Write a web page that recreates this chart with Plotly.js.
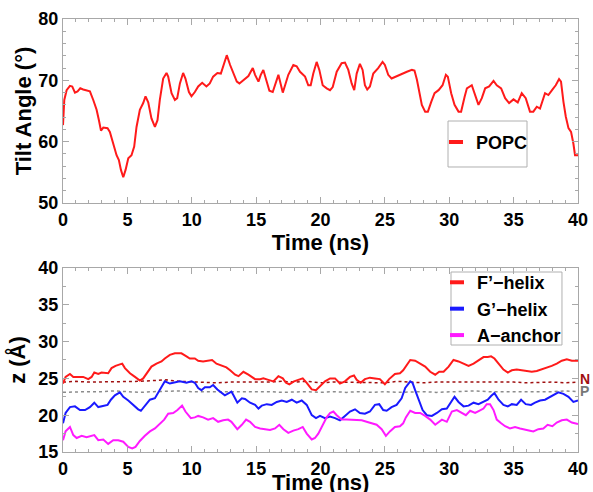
<!DOCTYPE html>
<html>
<head>
<meta charset="utf-8">
<script src="https://cdn.plot.ly/plotly-3.0.1.min.js"></script>
<style>html,body{margin:0;padding:0;background:#fff;}#chart{width:593px;height:492px;}</style>
</head>
<body>
<div id="chart"></div>
<script>
// ---- Top panel: tilt angle (POPC) ----
const tiltTime = [0,0.1,0.28,0.54,0.72,0.93,1.13,1.34,1.57,1.96,2.09,2.35,2.61,2.79,2.95,3.13,3.46,3.64,3.9,4.16,4.34,4.5,4.68,4.86,5.07,5.32,5.53,5.71,5.97,6.23,6.41,6.62,6.87,7.14,7.34,7.52,7.78,8.04,8.17,8.43,8.69,8.87,9.08,9.33,9.51,9.78,9.98,10.24,10.5,10.81,11.14,11.4,11.66,11.99,12.26,12.5,12.72,12.98,13.24,13.5,13.7,14.01,14.4,14.74,14.92,15.18,15.36,15.56,15.77,16.03,16.29,16.47,16.73,16.86,17.07,17.25,17.5,17.89,18.15,18.41,18.8,19.05,19.24,19.44,19.7,19.91,20.17,20.48,20.74,20.95,21.26,21.64,21.9,22.16,22.42,22.62,22.81,23.06,23.27,23.45,23.63,23.84,24.1,24.48,24.82,25.0,25.26,25.52,25.91,26.3,26.71,27.1,27.3,27.49,27.67,27.87,28.13,28.34,28.6,28.86,29.17,29.48,29.74,29.89,30.15,30.41,30.72,30.92,31.19,31.37,31.75,32.01,32.27,32.53,32.79,33.1,33.44,33.69,34.03,34.34,34.65,34.99,35.32,35.63,35.94,36.27,36.53,36.8,37.05,37.44,37.7,38.01,38.27,38.53,38.68,38.87,39.05,39.26,39.46,39.64,39.77,40];
const tiltAngle = [62.7,66.8,68.4,69.1,69.0,68.0,68.2,68.7,68.5,68.3,68.2,66.8,65.2,63.5,61.8,62.3,62.2,61.6,59.7,57.8,57.0,55.4,54.2,55.4,57.3,57.8,59.2,62.4,65.2,66.3,67.4,66.4,63.8,62.4,63.5,66.8,70.3,71.2,70.6,67.9,66.8,67.1,69.5,71.2,70.3,68.1,67.4,68.1,69.0,69.6,69.0,69.5,70.6,71.2,71.1,72.5,74.1,72.5,71.1,69.8,69.5,70.1,70.7,72.0,70.9,69.8,70.9,71.7,70.1,68.3,68.1,69.2,70.9,69.8,68.0,69.2,70.9,72.5,72.3,71.4,70.6,69.2,69.2,71.1,73.0,71.7,69.2,68.7,68.4,68.9,71.4,72.8,72.9,71.7,69.5,68.4,71.1,72.7,71.7,69.2,68.5,69.0,71.1,72.0,73.0,72.5,70.9,70.3,70.7,71.1,71.4,71.7,71.6,70.1,67.9,66.0,64.9,64.9,66.5,67.9,68.4,69.2,70.9,70.6,67.9,66.0,64.9,64.9,67.3,68.7,69.2,67.6,66.0,67.1,68.7,69.0,69.9,69.2,68.7,67.1,66.3,66.9,66.4,67.9,67.1,64.9,64.9,65.7,65.4,67.9,67.6,68.5,69.2,70.2,69.8,66.5,64.1,62.2,61.6,59.7,57.8,57.8];

// ---- Bottom panel: z positions ----
const fTime = [0,0.2,0.54,0.8,1.19,1.57,1.96,2.22,2.43,2.74,2.99,3.26,3.51,3.77,4.08,4.42,4.6,4.81,5.2,5.59,5.97,6.23,6.49,6.87,7.26,7.65,7.91,8.3,8.69,9.2,9.59,9.85,10.24,10.5,10.88,11.22,11.58,11.92,12.3,12.69,12.98,13.37,13.63,14.01,14.4,14.92,15.31,15.56,15.95,16.34,16.73,17.07,17.32,17.58,17.94,18.41,18.62,18.93,19.32,19.65,19.96,20.35,20.74,21.13,21.51,21.9,22.29,22.6,22.81,23.12,23.45,23.84,24.23,24.61,25.0,25.33,25.78,26.17,26.42,26.71,26.97,27.35,27.74,28.13,28.52,28.91,29.22,29.56,29.95,30.33,30.72,31.11,31.5,31.89,32.27,32.66,32.99,33.25,33.51,33.83,34.21,34.55,34.86,35.24,35.63,36.02,36.41,36.8,37.18,37.57,37.96,38.35,38.74,39.13,39.52,40];
const fZ = [24.3,25.2,25.6,25.2,25.2,25.2,24.9,25.2,25.8,25.6,25.8,25.7,25.7,26.4,26.7,26.9,27.0,26.4,25.7,25.2,24.7,25.0,25.7,26.6,27.0,27.3,27.7,28.2,28.4,28.4,28.0,27.7,27.7,27.4,27.3,27.4,27.5,27.0,26.7,26.5,26.1,25.5,25.3,25.9,25.5,24.9,24.9,25.0,24.8,24.6,25.3,25.0,24.4,24.2,24.6,24.9,25.0,24.4,23.5,23.4,24.0,24.6,25.0,25.0,24.3,24.6,25.2,25.4,24.8,24.4,24.9,25.1,25.0,24.9,24.2,24.9,25.6,25.7,26.1,26.8,27.5,27.4,27.0,26.6,25.9,25.5,25.9,25.9,26.6,27.5,27.3,27.0,26.7,27.0,27.4,27.9,27.9,28.0,27.7,27.0,26.2,25.8,26.1,26.2,26.1,26.1,25.9,26.0,26.2,26.5,26.7,27.0,27.4,27.6,27.4,27.4];

const gTime = [0,0.2,0.54,0.93,1.32,1.71,2.09,2.43,2.74,3.13,3.46,3.72,4.03,4.42,4.68,5.07,5.45,5.84,6.05,6.36,6.75,7.14,7.39,7.65,7.91,8.3,8.69,9.08,9.59,9.98,10.24,10.5,10.75,11.02,11.4,11.66,11.99,12.3,12.57,12.88,13.08,13.24,13.54,13.89,14.14,14.53,14.92,15.18,15.44,15.83,16.21,16.6,16.99,17.38,17.77,18.15,18.54,18.93,19.32,19.65,19.96,20.35,20.74,21.13,21.51,21.9,22.29,22.68,23.06,23.45,23.84,24.23,24.56,24.87,25.14,25.52,25.91,26.3,26.58,26.97,27.15,27.35,27.62,27.93,28.26,28.65,29.04,29.43,29.81,30.15,30.41,30.72,31.11,31.5,31.89,32.27,32.66,32.99,33.25,33.51,33.83,34.21,34.55,34.86,35.24,35.58,35.94,36.35,36.66,37.05,37.44,37.83,38.21,38.47,38.87,39.26,39.64,40];
const gZ = [18.9,20.3,21.1,21.2,20.7,20.7,21.1,21.7,21.1,21.3,21.4,22.1,22.7,23.1,22.5,22.0,21.4,20.8,20.6,21.2,22.1,22.3,23.0,23.8,24.6,24.3,24.4,24.6,24.4,24.6,24.4,23.7,23.4,23.8,23.8,24.1,23.5,23.1,22.7,23.0,23.2,22.7,21.7,22.3,22.2,21.7,21.4,20.9,21.3,21.5,21.4,21.8,22.0,21.8,22.1,21.7,22.0,21.4,20.0,19.6,19.9,19.6,19.8,19.6,19.3,19.9,20.5,20.8,20.3,20.2,20.5,21.4,21.5,20.7,20.6,21.1,21.4,22.3,23.7,24.6,24.4,23.4,22.1,20.7,20.0,19.9,20.3,20.8,20.9,21.8,22.5,21.8,21.2,21.3,21.7,21.5,21.8,22.1,22.6,23.0,22.1,21.4,21.2,21.5,21.4,22.1,21.5,21.4,21.7,22.0,22.1,22.5,22.9,23.1,22.9,22.5,21.8,22.0];

const aTime = [0,0.2,0.54,0.8,1.06,1.45,1.83,2.22,2.43,2.74,3.13,3.51,3.9,4.29,4.68,5.07,5.38,5.63,5.97,6.36,6.75,7.14,7.52,7.86,8.17,8.56,8.89,9.25,9.51,9.93,10.24,10.5,10.88,11.27,11.66,12.05,12.44,12.82,13.08,13.29,13.54,13.89,14.22,14.53,14.92,15.31,15.69,16.08,16.47,16.8,17.12,17.5,17.89,18.28,18.62,18.93,19.32,19.57,19.83,20.17,20.48,20.74,21.0,21.26,21.64,22.03,22.42,22.81,23.2,23.58,23.97,24.36,24.75,25.08,25.39,25.78,26.17,26.42,26.63,26.97,27.35,27.74,28.13,28.52,28.91,29.17,29.43,29.81,30.2,30.59,30.98,31.29,31.62,32.01,32.32,32.66,32.91,33.17,33.44,33.69,34.03,34.34,34.72,35.11,35.5,35.89,36.27,36.53,36.92,37.31,37.64,38.01,38.35,38.74,39.13,39.52,40];
const aZ = [16.6,17.8,18.4,17.3,16.9,17.2,17.0,17.2,17.3,16.6,16.7,16.1,16.6,16.6,16.4,15.7,15.5,15.7,16.5,17.2,17.8,18.2,18.8,19.4,20.2,20.3,20.7,21.3,20.5,19.6,19.7,19.9,19.7,19.4,19.6,19.1,19.3,19.4,19.1,18.7,18.1,18.7,19.4,19.1,18.4,18.2,18.1,18.0,18.2,18.7,18.1,17.6,17.9,18.1,18.4,17.5,16.7,16.9,17.5,18.7,19.7,20.3,20.5,20.0,19.4,19.4,19.4,19.4,19.3,19.1,18.9,18.7,18.1,17.2,17.8,18.4,18.5,18.9,19.7,20.6,20.3,20.3,19.9,19.4,18.7,19.0,19.4,19.1,20.5,20.7,20.3,20.0,20.6,20.3,20.6,20.9,21.5,21.5,20.7,19.4,18.9,18.5,18.2,18.4,18.2,18.1,17.9,17.8,18.1,18.2,18.7,18.5,19.0,19.3,19.4,19.0,18.8];

// reference membrane levels (dashed)
const refTime = [0,1,2,3,4,5,6,7,8,9,10,11,12,13,14,15,16,17,18,19,20,21,22,23,24,25,26,27,28,29,30,31,32,33,34,35,36,37,38,39,40];
const nLevel = [24.5,24.6,24.5,24.5,24.6,24.5,24.6,24.7,24.8,24.6,24.5,24.5,24.4,24.5,24.5,24.4,24.5,24.6,24.5,24.6,24.4,24.5,24.5,24.4,24.5,24.4,24.6,24.5,24.4,24.5,24.5,24.5,24.6,24.6,24.5,24.5,24.4,24.5,24.5,24.4,24.5];
const pLevel = [23.1,23.2,23.2,23.2,23.3,23.2,23.1,23.2,23.3,23.3,23.2,23.2,23.2,23.3,23.2,23.2,23.2,23.1,23.2,23.2,23.1,23.2,23.1,23.2,23.1,23.2,23.1,23.2,23.2,23.1,23.2,23.2,23.3,23.2,23.2,23.1,23.2,23.2,23.2,23.3,23.2];

const seriesNames = ['POPC', 'F\u2019\u2212helix', 'G\u2019\u2212helix', 'A\u2212anchor'];
const levelLabels = ['N', 'P'];
const colors = {popc:'#ff1a1a', f:'#ff1a1a', g:'#1a1aff', a:'#ff1aff', n:'#a01010', p:'#8c8c8c'};

const FONT = 'Liberation Sans, Arial, Helvetica, sans-serif';

function legendTrace(name, color, legend, xa, ya) {
  return {x:[null], y:[null], type:'scatter', mode:'markers', name:name, legend:legend,
    xaxis:xa, yaxis:ya, hoverinfo:'skip',
    marker:{symbol:'line-ew-open', size:10, color:color, line:{width:4, color:color}}};
}

const traces = [
  {x:tiltTime, y:tiltAngle, type:'scatter', mode:'lines', xaxis:'x', yaxis:'y', showlegend:false,
   line:{color:colors.popc, width:2}},
  {x:refTime, y:nLevel, type:'scatter', mode:'lines', xaxis:'x2', yaxis:'y2', showlegend:false,
   line:{color:colors.n, width:1.5, dash:'3px,3px'}},
  {x:refTime, y:pLevel, type:'scatter', mode:'lines', xaxis:'x2', yaxis:'y2', showlegend:false,
   line:{color:colors.p, width:1.5, dash:'3px,3px'}},
  {x:fTime, y:fZ, type:'scatter', mode:'lines', xaxis:'x2', yaxis:'y2', showlegend:false,
   line:{color:colors.f, width:2}},
  {x:gTime, y:gZ, type:'scatter', mode:'lines', xaxis:'x2', yaxis:'y2', showlegend:false,
   line:{color:colors.g, width:2}},
  {x:aTime, y:aZ, type:'scatter', mode:'lines', xaxis:'x2', yaxis:'y2', showlegend:false,
   line:{color:colors.a, width:2}},
  legendTrace(seriesNames[0], colors.popc, 'legend', 'x', 'y'),
  legendTrace(seriesNames[1], colors.f, 'legend2', 'x2', 'y2'),
  legendTrace(seriesNames[2], colors.g, 'legend2', 'x2', 'y2'),
  legendTrace(seriesNames[3], colors.a, 'legend2', 'x2', 'y2')
];

const tickFont = {family:FONT, size:18, color:'#000', weight:'bold'};
const titleFont = {family:FONT, size:22, color:'#000', weight:'bold'};
const frame = {showline:true, linecolor:'#a8a8a8', linewidth:1, mirror:'allticks', ticks:'inside',
  ticklen:6, tickwidth:1, tickcolor:'#a8a8a8', showgrid:false, zeroline:false, tickfont:tickFont};

const layout = {
  width:593, height:492,
  margin:{l:63, r:15, t:19, b:40},
  paper_bgcolor:'#fff', plot_bgcolor:'#fff',
  showlegend:true,
  xaxis:Object.assign({}, frame, {domain:[0,1], anchor:'y', range:[0,40], dtick:5, tick0:0,
    minor:{dtick:1, ticks:'inside', ticklen:3, tickcolor:'#a8a8a8'},
    title:{text:'Time (ns)', font:titleFont, standoff:3}}),
  yaxis:Object.assign({}, frame, {domain:[0.575,1], anchor:'x', range:[50,80], dtick:10, tick0:0,
    minor:{dtick:2, ticks:'inside', ticklen:3, tickcolor:'#a8a8a8'},
    title:{text:'Tilt Angle (\u00b0)', font:titleFont, standoff:0}}),
  xaxis2:Object.assign({}, frame, {domain:[0,1], anchor:'y2', range:[0,40], dtick:5, tick0:0,
    minor:{dtick:1, ticks:'inside', ticklen:3, tickcolor:'#a8a8a8'}}),
  yaxis2:Object.assign({}, frame, {domain:[0,0.425], anchor:'x2', range:[15,40], dtick:5, tick0:0,
    minor:{dtick:2.5, ticks:'inside', ticklen:3, tickcolor:'#a8a8a8'},
    title:{text:'z (\u00c5)', font:titleFont, standoff:6}}),
  legend:{x:0.7243, y:0.758, xanchor:'left', yanchor:'top', bgcolor:'rgba(0,0,0,0)', borderwidth:0,
    font:{family:FONT, size:18, color:'#000', weight:'bold'}},
  legend2:{x:0.7262, y:0.434, xanchor:'left', yanchor:'top', bgcolor:'rgba(0,0,0,0)', borderwidth:0,
    font:{family:FONT, size:18, color:'#000', weight:'bold'}},
  shapes:[
    {type:'rect', xref:'paper', yref:'paper', x0:0.7476, x1:0.9010, y0:0.6582, y1:0.7644,
     line:{color:'#b0b0b0', width:1}, fillcolor:'#fff', layer:'below'},
    {type:'rect', xref:'paper', yref:'paper', x0:0.7534, x1:0.9689, y0:0.2471, y1:0.4157,
     line:{color:'#b0b0b0', width:1}, fillcolor:'#fff', layer:'below'}
  ],
  annotations:[
    {text:'Time (ns)', xref:'paper', x:0.5, xanchor:'center', yref:'paper', y:-0.036, yanchor:'top',
     showarrow:false, font:titleFont},
    {text:levelLabels[0], xref:'x2 domain', x:1, xanchor:'left', xshift:0, yref:'y2', y:nLevel[nLevel.length-1],
     yanchor:'middle', yshift:3, showarrow:false, font:{family:FONT, size:14, color:colors.n, weight:'bold'}},
    {text:levelLabels[1], xref:'x2 domain', x:1, xanchor:'left', xshift:0, yref:'y2', y:pLevel[pLevel.length-1],
     yanchor:'middle', yshift:1, showarrow:false, font:{family:FONT, size:14, color:'#777', weight:'bold'}}
  ]
};

Plotly.newPlot('chart', traces, layout, {staticPlot:true, displayModeBar:false});
</script>
</body>
</html>
